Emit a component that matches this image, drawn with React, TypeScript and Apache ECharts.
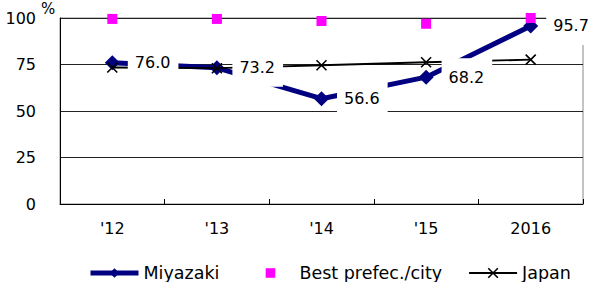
import React, { useEffect, useRef } from "react";
import * as echarts from "echarts";

const categories = ["'12", "'13", "'14", "'15", "2016"];
const miyazaki = [76.0, 73.2, 56.6, 68.2, 95.7];
const best = [99.5, 99.5, 98.4, 96.9, 100];
const japan = [73.4, 73.0, 74.6, 76.2, 77.6];
const yTicks = [0, 25, 50, 75, 100];

const FONT = "DejaVu Sans";
const NAVY = "#000080";
const PINK = "#FF00FF";
const XMARK = "path://M0,0L10,10M10,0L0,10";

export default function App() {
  const ref = useRef<HTMLDivElement>(null);
  useEffect(() => {
    if (!ref.current) return;
    const chart = echarts.init(ref.current, null, { renderer: "svg" });
    chart.setOption({
      animation: false,
      textStyle: { fontFamily: FONT, color: "#000" },
      grid: {
        left: 60,
        right: 28,
        top: 18,
        bottom: 78,
        show: true,
        borderColor: "#888",
        borderWidth: 1,
        backgroundColor: "transparent",
      },
      xAxis: {
        type: "category",
        data: categories,
        boundaryGap: true,
        axisLine: { lineStyle: { color: "#000", width: 1 } },
        axisTick: { show: true, inside: true, length: 5, lineStyle: { color: "#000" } },
        axisLabel: { fontSize: 16, color: "#000", margin: 16, fontFamily: FONT },
      },
      yAxis: {
        type: "value",
        min: yTicks[0],
        max: yTicks[yTicks.length - 1],
        interval: 25,
        axisLine: { show: true, lineStyle: { color: "#000", width: 1 } },
        axisTick: { show: false },
        axisLabel: { fontSize: 16, color: "#000", margin: 24, fontFamily: FONT },
        splitLine: { show: true, lineStyle: { color: "#222", width: 1 } },
      },
      legend: {
        left: 88,
        top: 264,
        padding: 0,
        itemWidth: 48,
        itemHeight: 12,
        itemGap: 26,
        textStyle: { fontSize: 17.5, color: "#000", fontFamily: FONT },
        data: [
          {
            name: "Miyazaki",
            itemStyle: { color: NAVY },
            lineStyle: { color: NAVY, width: 5 },
          },
          {
            name: "Best prefec./city",
            itemStyle: { color: PINK },
            lineStyle: { opacity: 0 },
          },
          {
            name: "Japan",
            itemStyle: { color: "transparent", borderColor: "#000", borderWidth: 1.6 },
            lineStyle: { color: "#000", width: 1.8 },
          },
        ],
      },
      graphic: [
        {
          type: "text",
          left: 41,
          top: 1,
          style: { text: "%", fontSize: 15, fill: "#000", fontFamily: FONT },
        },
      ],
      series: [
        {
          name: "Miyazaki",
          type: "line",
          data: miyazaki,
          z: 2,
          symbol: "diamond",
          symbolSize: 15,
          lineStyle: { color: NAVY, width: 5 },
          itemStyle: { color: NAVY },
        },
        {
          name: "Japan",
          type: "line",
          data: japan,
          z: 3,
          symbol: XMARK,
          symbolSize: 10,
          lineStyle: { color: "#000", width: 1.8 },
          itemStyle: { color: "transparent", borderColor: "#000", borderWidth: 1.6 },
        },
        {
          name: "Best prefec./city",
          type: "line",
          data: best,
          z: 4,
          symbol: "rect",
          symbolSize: 10,
          lineStyle: { opacity: 0 },
          itemStyle: { color: PINK },
        },
        {
          name: "MiyazakiLabels",
          type: "line",
          data: miyazaki,
          z: 10,
          symbol: "diamond",
          symbolSize: 15,
          lineStyle: { opacity: 0 },
          itemStyle: { color: "rgba(0,0,0,0)" },
          label: {
            show: true,
            position: "right",
            distance: 8,
            fontSize: 16,
            lineHeight: 16,
            color: "#000",
            fontFamily: FONT,
            backgroundColor: "#fff",
            padding: [9, 8, 13, 7],
            formatter: (p: any) => Number(p.value).toFixed(1),
          },
        },
      ],
    });
    return () => chart.dispose();
  }, []);
  return <div ref={ref} style={{ width: 611, height: 282, position: "absolute", left: 0, top: 0 }} />;
}
